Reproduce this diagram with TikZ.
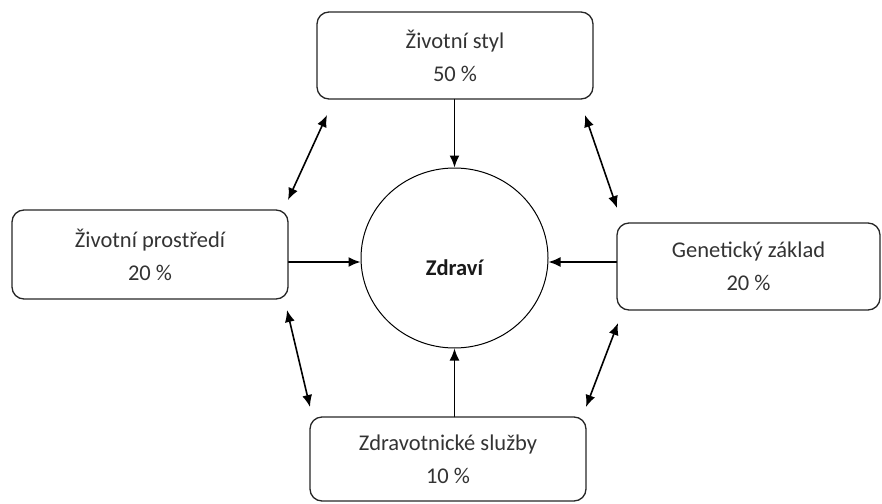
\documentclass[tikz,border=0pt]{standalone}
\usepackage{fontspec}
\setmainfont{Carlito}
\usetikzlibrary{arrows.meta,calc,shapes.geometric}
\tikzset
{
  faktor/.style={draw=black!85,rounded corners=12pt,line width=1.3pt,align=center,inner sep=0pt,text=black!80,font=\fontsize{22.5}{33}\selectfont},
  zdravi/.style={draw,ellipse,line width=1pt,minimum width=187pt,minimum height=180pt,inner sep=0pt},
  vliv/.style={-{Latex[length=12pt,width=10pt]},line width=1.6pt},
  vazba/.style={{Latex[length=12pt,width=10pt]}-{Latex[length=12pt,width=10pt]},line width=1.6pt}
}

\begin{document}
\begin{tikzpicture}[x=1pt,y=-1pt,line cap=round,line join=round]
            \useasboundingbox (0,0) rectangle (882,503);
            % uzly
            \node[zdravi] (Z) at (454.5,258) {};
            \node[font=\fontsize{22.5}{26}\selectfont\bfseries,text=black!90] (Zt) at ($(Z.center)+(0,10)$) {Zdraví};
            \node[faktor,minimum width=276pt,minimum height=87pt] (S) at (455,55.5) {Životní styl\\50 \%};
            \node[faktor,minimum width=276pt,minimum height=89pt] (P) at (150,254.5) {Životní prostředí\\20 \%};
            \node[faktor,minimum width=263pt,minimum height=87pt] (G) at (748.5,266.5) {Genetický základ\\20 \%};
            \node[faktor,minimum width=276pt,minimum height=84pt] (L) at (448,459) {Zdravotnické služby\\10 \%};
            % konce obousmernych sipek
            \coordinate (A1) at (327,115);
            \coordinate (A2) at (288,200);
            \coordinate (B1) at (585,115);
            \coordinate (B2) at (617,208);
            \coordinate (C1) at (287,310);
            \coordinate (C2) at (310,407);
            \coordinate (D1) at (618,323);
            \coordinate (D2) at (586,407);
            % vlivy na zdravi
            \draw[vliv] (Z.north |- S.south) -- (Z.north);
            \draw[vliv] (P.east |- 0,262) -- (Z.west |- 0,262);
            \draw[vliv] (G.west |- 0,262) -- (Z.east |- 0,262);
            \draw[vliv] (Z.south |- L.north) -- (Z.south);
            % vazby mezi faktory
            \foreach \i in {A,B,C,D}
              \draw[vazba] (\i1) -- (\i2);
\end{tikzpicture}
\end{document}
